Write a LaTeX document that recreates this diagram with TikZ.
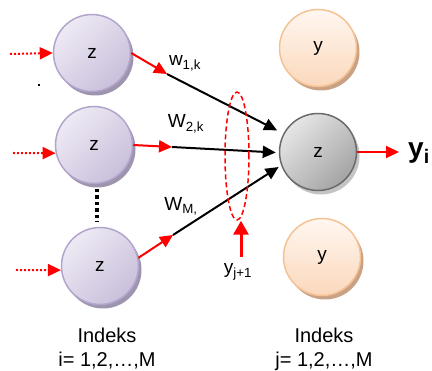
\documentclass[tikz,border=0pt]{standalone}
\usepackage{fontspec}
\setmainfont{Liberation Sans}
\usetikzlibrary{arrows.meta,shadows,shapes.geometric}
\definecolor{lavA}{HTML}{EEEAF4}
\definecolor{lavB}{HTML}{C9BFDB}
\definecolor{lavD}{HTML}{B2A5CC}
\definecolor{lavS}{HTML}{9E94AE}
\definecolor{grA}{HTML}{E6E6E6}
\definecolor{grB}{HTML}{A4A4A4}
\definecolor{grD}{HTML}{6A6A6A}
\definecolor{grS}{HTML}{C4C4C4}
\definecolor{peA}{HTML}{FFF7F1}
\definecolor{peB}{HTML}{FBD8BC}
\definecolor{peD}{HTML}{F5C293}
\definecolor{peS}{HTML}{C9A286}
\begin{document}
\begin{tikzpicture}[x=1pt,y=-1pt,
  neuron/.style={circle, minimum size=77pt, inner sep=0pt, line width=1.5pt,
    font=\fontsize{19}{22}\selectfont},
  lav/.style={neuron, draw=lavD, top color=lavA, bottom color=lavB, shading angle=45,
    drop shadow={shadow xshift=3pt, shadow yshift=-4pt, fill=lavS, opacity=1}},
  grayn/.style={neuron, draw=grD, top color=grA, bottom color=grB, shading angle=45,
    drop shadow={shadow xshift=3pt, shadow yshift=-4pt, fill=grS, opacity=1}},
  peach/.style={neuron, draw=peD, top color=peA, bottom color=peB,
    drop shadow={shadow xshift=3pt, shadow yshift=-4pt, fill=peS, opacity=1}},
  redin/.style={red, line width=2pt, dash pattern=on 2pt off 2pt,
    -{Triangle[length=13pt,width=12pt]}},
  redout/.style={red, line width=2pt, -{Triangle[length=13pt,width=12pt]}},
  redup/.style={red, line width=3pt, -{Triangle[length=14pt,width=15pt]}},
  blk/.style={black, line width=2pt, -{Triangle[length=13pt,width=12pt]}},
  lbl/.style={font=\fontsize{19}{25}\selectfont, inner sep=0pt},
  idx/.style={font=\fontsize{20}{24}\selectfont, inner sep=0pt, align=center},
]
\useasboundingbox (0,0) rectangle (432,371);

% neurons
\node[lav] (z1) at (92,53) {z};
\node[lav] (z2) at (94,145) {z};
\node[lav] (z3) at (100,266) {z};
\node[peach] (y1) at (318,48) {y};
\node[grayn] (zc) at (318,152) {z};
\node[peach] (y2) at (322,257) {y};

% free ends
\coordinate (s1) at (10,54);
\coordinate (s2) at (13,153);
\coordinate (s3) at (16,270);
\coordinate (m1) at (167,74);
\coordinate (m2) at (172,147);
\coordinate (m3) at (173,235);
\coordinate (o) at (399,152);
\coordinate (d1) at (97,189);
\coordinate (d2) at (97,222);
\coordinate (a) at (241,257);

% inputs
\draw[redin] (s1) -- (z1.west);
\draw[redin] (s2) -- (z2.192);
\draw[redin] (s3) -- (z3.186);

% weighted connections
\draw[blk, shorten >=7pt] (m1) -- (zc.152);
\draw[blk, shorten >=3pt] (m2) -- (zc.181);
\draw[blk, shorten >=3pt] (m3) -- (zc.200);
\draw[redout] (z1.east) -- (m1);
\draw[redout] (z2.east) -- (m2);
\draw[redout] (z3.12) -- (m3);

% output
\draw[redout] (zc.east) -- (o);
\node[font=\fontsize{28}{30}\selectfont\bfseries, anchor=west, inner sep=0pt] (yi) at (408,153) {y\textsubscript{i}};

% weight labels
\node[lbl] (w1) at (185,63) {w\textsubscript{1,k}};
\node[lbl] (w2) at (186,124) {W\textsubscript{2,k}};
\node[lbl] (wm) at (181,206) {W\textsubscript{M,}};

% recurrent ellipse
\node[ellipse, draw=red, line width=1.5pt, dash pattern=on 5pt off 3pt,
  minimum width=24pt, minimum height=128pt, inner sep=0pt] (el) at (237,156) {};
\node[lbl] (yj) at (238,272) {y\textsubscript{j+1}};
\draw[redup] (a) -- (a |- el.south);

% dotted ellipsis between neurons
\draw[line width=3.5pt, dash pattern=on 3.5pt off 3pt] (d1) -- (d2);
\fill (38,84) rectangle (40,86);

% index labels
\node[idx] (li) at (107,349) {Indeks\\i= 1,2,…,M};
\node[idx] (lj) at (324,349) {Indeks\\j= 1,2,…,M};
\end{tikzpicture}
\end{document}
